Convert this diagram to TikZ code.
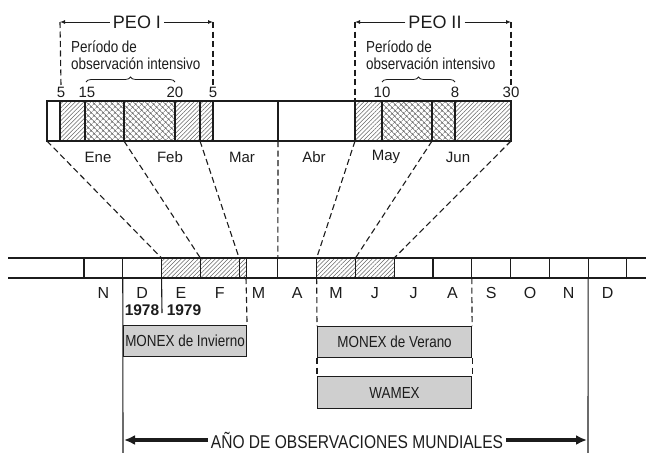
\documentclass[tikz,border=0pt]{standalone}
\usepackage{fontspec}
\setmainfont{Liberation Sans}
\newfontfamily\narrowfont{Liberation Sans}[FakeStretch=0.84]
\usetikzlibrary{positioning,arrows.meta,calc,decorations.pathreplacing,patterns.meta}
\definecolor{BoxGray}{HTML}{CFCFCF}
\definecolor{HatchGray}{HTML}{666666}
\definecolor{LineDark}{HTML}{1C1C1C}

\begin{document}
\begin{tikzpicture}[x=1pt, y=-1pt, every node/.style={font=\fontsize{15}{18}\selectfont, inner sep=1pt, text=LineDark},
  bar/.style={draw=LineDark, line width=1.1pt},
  hatchfill/.style={pattern={Lines[angle=45,distance=3pt,line width=0.55pt]}, pattern color=HatchGray},
  crossfill/.style={pattern={Hatch[angle=45,distance=4pt,line width=0.5pt]}, pattern color=HatchGray},
  guide/.style={draw=LineDark, line width=1.1pt, dash pattern=on 6pt off 3.5pt},
  peo/.style={-{Latex[length=5pt,width=4pt]}, draw=LineDark, line width=0.9pt},
  bigarrow/.style={-{Latex[length=11pt,width=10pt]}, draw=LineDark, line width=3.4pt},
  brace/.style={draw=LineDark, line width=0.8pt, decorate, decoration={brace,amplitude=5pt}},
  gbox/.style={draw=LineDark, line width=1.1pt, fill=BoxGray, inner sep=0pt, font=\narrowfont\fontsize{16}{18}\selectfont},
  intext/.style={anchor=north west, align=left, font=\narrowfont\fontsize{16}{16.5}\selectfont}]
\useasboundingbox (0,0) rectangle (646,453);

% top bar: PEO I and PEO II
\path[hatchfill] (60,101) rectangle (85,141);
\path[crossfill] (85,101) rectangle (175,141);
\path[hatchfill] (175,101) rectangle (213,141);
\path[hatchfill] (355,101) rectangle (382,141);
\path[crossfill] (382,101) rectangle (455,141);
\path[hatchfill] (455,101) rectangle (511,141);
\draw[bar] (47,101) rectangle (511,141);
\foreach \x in {60,85,124,175,200,213,278,355,382,432,455}
  \draw[bar] (\x,101) -- (\x,141);

% month boundaries
\foreach \x [count=\i from 0] in {47,124,200,278,355,432,511}
  \coordinate (tb\i) at (\x,141);
\foreach \i in {0,...,14} {
  \coordinate (bb\i) at ({84+38.78*\i},258);
  \coordinate (bl\i) at ({84+38.78*\i},278);
}

% dates and PEO limits
\node (d5a) at (61,92) {5};
\node (d15) at (87,92) {15};
\node (d20) at (175,92) {20};
\node (d5b) at (213,92) {5};
\node (d10) at (382,92) {10};
\node (d8) at (455,92) {8};
\node (d30) at (511,92) {30};

\coordinate (peoIL) at (60,22);
\coordinate (peoIR) at (213,22);
\coordinate (peoIIL) at (355,22);
\coordinate (peoIIR) at (511,22);
\draw[guide] (peoIL) -- (d5a.north);
\draw[guide] (peoIR) -- (d5b.north);
\draw[guide] (peoIIL) -- (355,100);
\draw[guide] (peoIIR) -- (d30.north);

\node[font=\fontsize{18}{21}\selectfont, inner sep=3pt] (peoI) at (137,22) {PEO I};
\node[font=\fontsize{18}{21}\selectfont, inner sep=3pt] (peoII) at (435,22) {PEO II};
\draw[peo] (peoI.west) -- (peoIL);
\draw[peo] (peoI.east) -- (peoIR);
\draw[peo] (peoII.west) -- (peoIIL);
\draw[peo] (peoII.east) -- (peoIIR);

\node[intext] (intI) at (70,40) {Período de\\observación intensivo};
\node[intext] (intII) at (365,40) {Período de\\observación intensivo};
\draw[brace] (86,82) -- (175,82);
\draw[brace] (382,82) -- (455,82);

% top month names
\node (ene) at (98,157) {Ene};
\node (feb) at (170,157) {Feb};
\node (mar) at (242,157) {Mar};
\node (abr) at (314,157) {Abr};
\node (may) at (386,157) {May};
\node (jun) at (458,157) {Jun};

% projection onto the year
\foreach \i [evaluate=\i as \j using int(\i+2)] in {0,...,6}
  \draw[guide] (tb\i) -- (bb\j);

% bottom bar
\path[hatchfill] (162,258) rectangle (246,278);
\path[hatchfill] (317,258) rectangle (394,278);
\draw[bar] (8,258) -- (646,258);
\draw[bar] (8,278) -- (646,278);
\foreach \i in {0,...,14}
  \draw[bar] (bb\i) -- (bl\i);
\draw[bar, line width=0.7pt] (246,258) -- (246,278);
\foreach \m [count=\i from 0] in {N,D,E,F,M,A,M,J,J,A,S,O,N,D}
  \node[font=\fontsize{16}{19}\selectfont] (bm\i) at ({84+38.78*(\i+0.5)},293) {\m};

% years
\node[font=\fontsize{15.5}{18}\selectfont\bfseries] (y78) at (142,310) {1978};
\node[font=\fontsize{15.5}{18}\selectfont\bfseries] (y79) at (184,310) {1979};
\draw[bar] (bl2) -- (162,313);

% campaigns
\node[gbox, anchor=north west, minimum width=123pt, minimum height=31pt] (invierno) at (123,325) {MONEX de Invierno};
\node[gbox, anchor=north west, minimum width=154pt, minimum height=31pt] (verano) at (317,326) {MONEX de Verano};
\node[gbox, anchor=north west, minimum width=154pt, minimum height=32pt] (wamex) at (317,376) {WAMEX};
\coordinate (marEnd) at (246,278);
\draw[guide] (marEnd) -- (invierno.north east);
\draw[guide] (bl6) -- (verano.north west);
\draw[guide] (bl10) -- (verano.north east);
\draw[guide] (verano.south west) -- (wamex.north west);
\draw[guide] (verano.south east) -- (wamex.north east);

% observation year
\draw[bar] (bl1) -- (123,453);
\draw[bar] (bl13) -- (588,453);
\coordinate (aomL) at (124,440);
\coordinate (aomR) at (587,440);
\node[font=\narrowfont\fontsize{18.5}{21}\selectfont, inner sep=3pt] (aom) at (357,440) {AÑO DE OBSERVACIONES MUNDIALES};
\draw[bigarrow] (aom.west) -- (aomL);
\draw[bigarrow] (aom.east) -- (aomR);
\end{tikzpicture}
\end{document}
